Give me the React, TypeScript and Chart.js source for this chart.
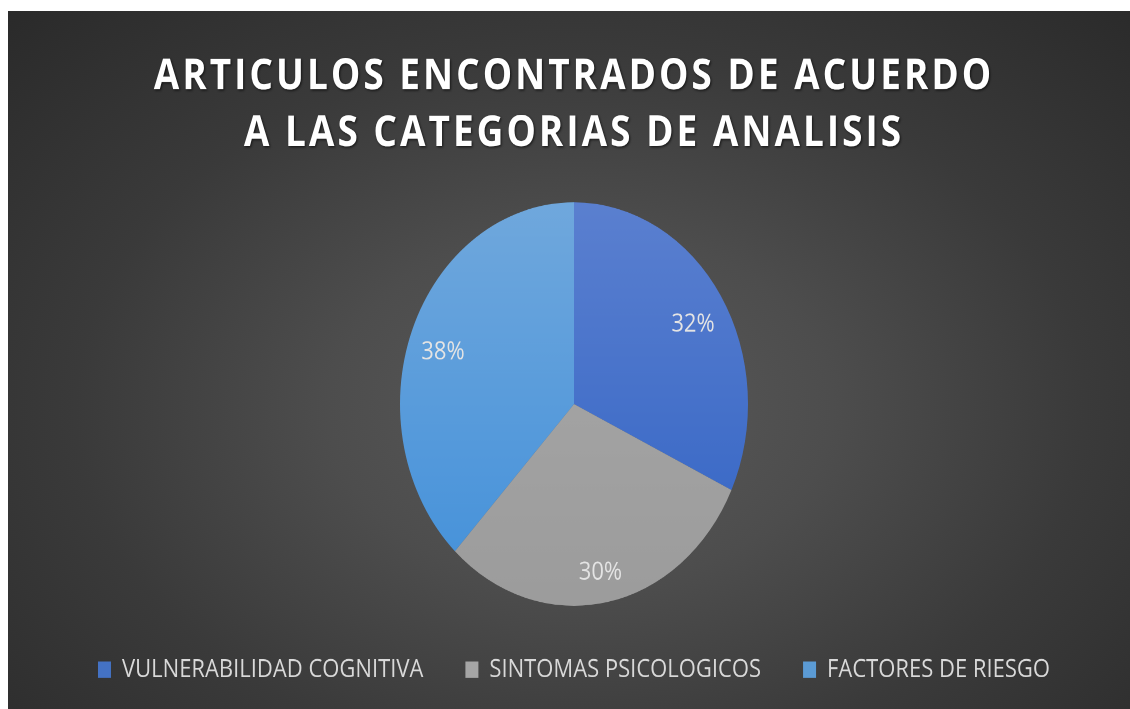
import React, { useEffect, useRef } from "react";
import { Chart, registerables } from "chart.js";

Chart.register(...registerables);

const titleLines = ["ARTICULOS ENCONTRADOS DE ACUERDO", "A LAS CATEGORIAS DE ANALISIS"];
const categories = ["VULNERABILIDAD COGNITIVA", "SINTOMAS PSICOLOGICOS", "FACTORES DE RIESGO"];
const values = [32, 30, 38];
const topColors = ["#5b80d0", "#a9a9a9", "#70a8dd"];
const bottomColors = ["#3163c4", "#9c9c9c", "#4290da"];
const legendColors = ["#4472c4", "#a5a5a5", "#5b9bd5"];

const STRETCH = 1.1595;
const W = 1122;
const H = 602;

const labelPlugin = {
  id: "sliceLabels",
  beforeDraw(chart: any) {
    const tb = chart.titleBlock;
    if (tb && !tb.__patched) {
      const orig = tb.draw.bind(tb);
      tb.draw = function (...args: any[]) {
        const ctx = chart.ctx;
        ctx.save();
        (ctx as any).letterSpacing = "3px";
        ctx.shadowColor = "rgba(0,0,0,0.65)";
        ctx.shadowBlur = 4;
        ctx.shadowOffsetX = 2;
        ctx.shadowOffsetY = 2;
        orig(...args);
        ctx.restore();
      };
      tb.__patched = true;
    }
  },
  afterDatasetsDraw(chart: any) {
    const ctx = chart.ctx;
    const meta = chart.getDatasetMeta(0);
    const data = chart.data.datasets[0].data as number[];
    const total = data.reduce((a, b) => a + b, 0);
    ctx.save();
    ctx.font = "22px 'Open Sans'";
    ctx.fillStyle = "#e4e4e4";
    ctx.textAlign = "center";
    ctx.textBaseline = "middle";
    meta.data.forEach((arc: any, i: number) => {
      const p = arc.getProps(["x", "y", "startAngle", "endAngle", "outerRadius"], true);
      const mid = (p.startAngle + p.endAngle) / 2;
      const r = p.outerRadius * 0.81;
      const x = p.x + Math.cos(mid) * r;
      const y = p.y + Math.sin(mid) * r + 7;
      ctx.fillText(Math.round((data[i] / total) * 100) + "%", x, y);
    });
    ctx.restore();
  },
};

export default function App() {
  const canvasRef = useRef<HTMLCanvasElement | null>(null);

  useEffect(() => {
    if (!canvasRef.current) return;
    const makeFill = (i: number) => (ctx: any) => {
      const chart = ctx.chart;
      const area = chart.chartArea;
      if (!area) return legendColors[i];
      const g = chart.ctx.createLinearGradient(0, area.top, 0, area.bottom);
      g.addColorStop(0, topColors[i]);
      g.addColorStop(1, bottomColors[i]);
      return g;
    };
    const chart = new Chart(canvasRef.current, {
      type: "pie",
      data: {
        labels: categories,
        datasets: [
          {
            data: values,
            backgroundColor: (ctx: any) => makeFill(ctx.dataIndex)(ctx),
            borderWidth: 0,
          },
        ],
      },
      options: {
        animation: false,
        responsive: false,
        devicePixelRatio: 2,
        radius: 174,
        layout: { padding: { left: 10, right: 0, top: 0, bottom: 13 } },
        plugins: {
          title: {
            display: true,
            text: titleLines,
            color: "#ffffff",
            font: { family: "'Open Sans'", size: 37, weight: "bold", lineHeight: 49 / 37 },
            padding: { top: 32.5, bottom: 32.5 },
          },
          legend: {
            display: true,
            position: "bottom",
            labels: {
              color: "#d9d9d9",
              font: { family: "'Open Sans'", size: 22 },
              boxWidth: 13,
              boxHeight: 14,
              padding: 42,
              generateLabels: () =>
                categories.map((c, i) => ({
                  text: c,
                  fillStyle: legendColors[i],
                  strokeStyle: legendColors[i],
                  lineWidth: 0,
                  fontColor: "#d9d9d9",
                  index: i,
                  hidden: false,
                })),
            },
          },
          tooltip: { enabled: false },
        },
      } as any,
      plugins: [labelPlugin],
    });
    return () => chart.destroy();
  }, []);

  return (
    <div
      style={{
        position: "fixed",
        left: 8,
        top: 11,
        width: W,
        height: Math.round(H * STRETCH),
        overflow: "hidden",
        background:
          "radial-gradient(ellipse 75% 85% at 51% 57%, #5a5a5a 0%, #4d4d4d 30%, #3a3a3a 60%, #282828 100%)",
      }}
    >
      <div style={{ width: W, height: H, transform: `scaleY(${STRETCH})`, transformOrigin: "0 0" }}>
        <canvas ref={canvasRef} width={W} height={H} />
      </div>
    </div>
  );
}
